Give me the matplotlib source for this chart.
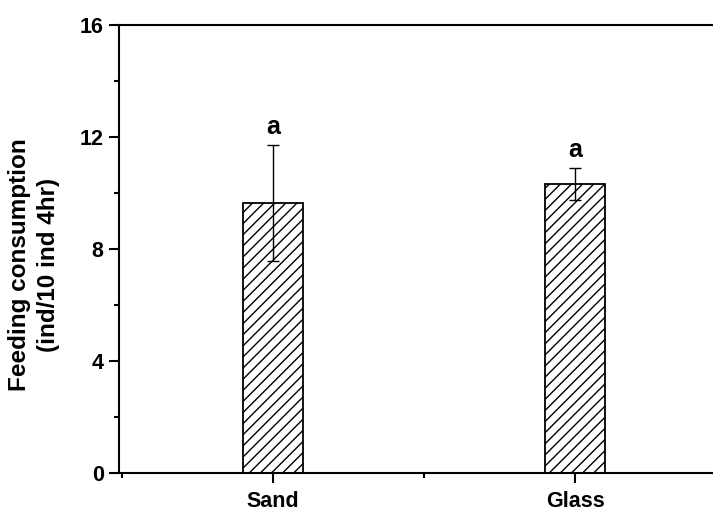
import matplotlib
matplotlib.use("Agg")
import matplotlib.pyplot as plt
from matplotlib.ticker import MultipleLocator, FixedLocator

categories = ["Sand", "Glass"]
means = [9.65, 10.32]
errors = [2.07, 0.57]
letters = ["a", "a"]
yticks = [0, 4, 8, 12, 16]

plt.rcParams['font.family'] = ['Liberation Sans', 'DejaVu Sans']
plt.rcParams['hatch.linewidth'] = 1.0

fig = plt.figure(figsize=(7.13, 5.12), dpi=100)
ax = fig.add_axes([119/713, 39/512, (730-119)/713, 448/512])

xpos = [0.5 + i for i in range(len(categories))]
ax.bar(xpos, means, width=0.2, color='white', edgecolor='black',
       linewidth=1.3, hatch='///', zorder=2)
ax.errorbar(xpos, means, yerr=errors, fmt='none', ecolor='black',
            elinewidth=1.0, capsize=4, capthick=1.0, zorder=3)
for x, m, e, t in zip(xpos, means, errors, letters):
    ax.text(x, m + e + 0.2, t, ha='center', va='bottom',
            fontsize=18, fontweight='bold')

ax.set_xlim(-0.01, 2.013)
ax.set_ylim(0, 16)
ax.set_xticks(xpos)
ax.set_xticklabels(categories, fontsize=15.5, fontweight='bold')
ax.xaxis.set_minor_locator(FixedLocator([0, 1, 2]))
ax.set_yticks(yticks)
ax.set_yticklabels([str(v) for v in yticks], fontsize=15.5, fontweight='bold')
ax.yaxis.set_minor_locator(MultipleLocator(2))

ax.tick_params(which='major', direction='out', length=7, width=1.5, pad=4)
ax.tick_params(axis='x', which='major', pad=6)
ax.tick_params(which='minor', direction='out', length=3.5, width=1.5)
ax.tick_params(top=False, right=False, which='both')

for s in ['left', 'bottom', 'top']:
    ax.spines[s].set_linewidth(1.5)
ax.spines['right'].set_visible(False)

fig.text(34/713, 1 - 265/512, "Feeding consumption\n(ind/10 ind 4hr)",
         rotation=90, ha='center', va='center', fontsize=17.5,
         fontweight='bold', linespacing=1.3, multialignment='center')

fig.savefig("out.png", dpi=100)
